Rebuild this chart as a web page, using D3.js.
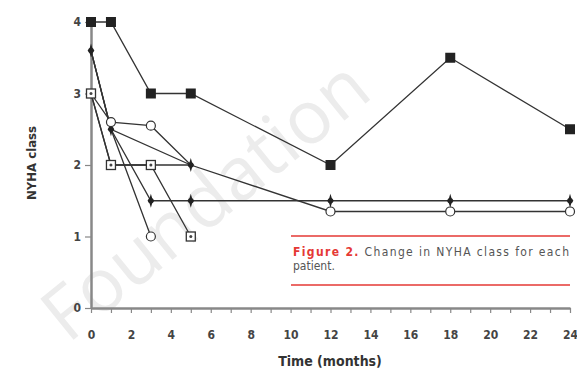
<!DOCTYPE html>
<html>
<head>
<meta charset="utf-8">
<style>
  body { margin: 0; background: #fff; }
  svg { display: block; }
  .axis text { font-family: "DejaVu Sans Condensed", "DejaVu Sans", sans-serif; font-stretch: condensed; font-weight: bold; font-size: 12px; fill: #444; }
  .axis path, .axis line { stroke: #888; }
  .line { fill: none; stroke: #333; stroke-width: 1.3px; }
</style>
</head>
<body>
<div id="chart"></div>
<script src="https://cdnjs.cloudflare.com/ajax/libs/d3/7.8.5/d3.min.js"></script>
<script>
  // follow-up times (months) and NYHA class per patient, null = no visit
  var months = [0, 1, 3, 5, 12, 18, 24];
  var xTicks = [0, 2, 4, 6, 8, 10, 12, 14, 16, 18, 20, 22, 24];
  var yTicks = [0, 1, 2, 3, 4];

  var p1 = [4, 4, 3, 3, 2, 3.5, 2.5];
  var p2 = [3.6, 2.5, 1.5, 1.5, 1.5, 1.5, 1.5];
  var p3 = [3, 2.6, 2.55, 2, 1.35, 1.35, 1.35];
  var p4 = [3, 2, 2, 1, null, null, null];
  var p5 = [3.6, 2.5, 1, null, null, null, null];
  var p6 = [3.6, 2.5, null, 2, null, null, null];
  var p7 = [3, 2, 2, 2, null, null, null];

  var patients = [
    { values: p7, symbol: "opensquare" },
    { values: p6, symbol: "star" },
    { values: p5, symbol: "opencircle" },
    { values: p4, symbol: "opensquare" },
    { values: p3, symbol: "opencircle" },
    { values: p2, symbol: "star" },
    { values: p1, symbol: "square" }
  ];
  // later symbols win where points coincide
  var markerOrder = ["opencircle", "opensquare", "star", "square"];

  var width = 577, height = 376;
  var condensed = "'DejaVu Sans Condensed', 'DejaVu Sans', sans-serif";

  var x = d3.scaleLinear().domain([0, 24]).range([91, 570]);
  var y = d3.scaleLinear().domain([0, 4]).range([308, 22]);

  var svg = d3.select("#chart").append("svg")
    .attr("width", width)
    .attr("height", height);

  // watermark (behind the chart)
  svg.append("text")
    .attr("transform", "translate(205,200) rotate(-39)")
    .attr("text-anchor", "middle")
    .attr("dy", "0.35em")
    .style("font-family", "'Open Sans', sans-serif")
    .style("font-size", "74px")
    .style("fill", "#ececec")
    .text("Foundation");

  // axes
  var xAxis = svg.append("g")
    .attr("class", "axis")
    .attr("transform", "translate(0," + y(0) + ")")
    .call(d3.axisBottom(x).tickValues(d3.range(0, 25)).tickSize(5).tickSizeOuter(0)
      .tickFormat(function (d) { return xTicks.indexOf(d) >= 0 ? d : ""; }).tickPadding(17));
  xAxis.select(".domain").attr("stroke-width", 2.5);
  xAxis.selectAll(".tick line").attr("stroke-width", 1.2);

  var yAxis = svg.append("g")
    .attr("class", "axis")
    .attr("transform", "translate(" + x(0) + ",0)")
    .call(d3.axisLeft(y).tickValues(yTicks).tickSize(6).tickSizeOuter(0).tickPadding(4)
      .tickFormat(d3.format("d")));
  yAxis.select(".domain").attr("stroke-width", 2.5);
  yAxis.selectAll(".tick line").attr("stroke-width", 1.2);

  svg.append("text")
    .attr("x", 330).attr("y", 366)
    .attr("text-anchor", "middle")
    .style("font-family", condensed).style("font-stretch", "condensed")
    .style("font-weight", "bold").style("font-size", "14px").style("fill", "#333")
    .text("Time (months)");

  svg.append("text")
    .attr("transform", "translate(36,163) rotate(-90)")
    .attr("text-anchor", "middle")
    .style("font-family", condensed).style("font-stretch", "condensed")
    .style("font-weight", "bold").style("font-size", "13px").style("fill", "#333")
    .text("NYHA class");

  // lines
  var line = d3.line()
    .x(function (d) { return x(d[0]); })
    .y(function (d) { return y(d[1]); });

  function pts(values) {
    return months.map(function (m, i) { return [m, values[i]]; })
      .filter(function (d) { return d[1] != null; });
  }

  patients.forEach(function (p) {
    svg.append("path").attr("class", "line").attr("d", line(pts(p.values)));
  });

  // markers: one per position, the highest ranked symbol is kept
  var star4 = "M0,-7L1.6,-1.6L3.5,0L1.6,1.6L0,7L-1.6,1.6L-3.5,0L-1.6,-1.6Z";

  function drawMarker(g, type) {
    if (type === "square") {
      g.append("rect").attr("x", -5).attr("y", -5).attr("width", 10).attr("height", 10)
        .attr("fill", "#222");
    } else if (type === "opensquare") {
      g.append("rect").attr("x", -4.5).attr("y", -4.5).attr("width", 9).attr("height", 9)
        .attr("fill", "#fff").attr("stroke", "#333").attr("stroke-width", 1.3);
      g.append("circle").attr("r", 1.5).attr("fill", "#444");
    } else if (type === "opencircle") {
      g.append("circle").attr("r", 4.5)
        .attr("fill", "#fff").attr("stroke", "#333").attr("stroke-width", 1.2);
    } else if (type === "star") {
      g.append("path").attr("d", star4).attr("fill", "#222");
      g.append("circle").attr("r", 2.8).attr("fill", "#222");
    }
  }

  var markers = {};
  patients.forEach(function (p) {
    pts(p.values).forEach(function (d) {
      var key = d[0] + "," + d[1];
      var old = markers[key];
      if (!old || markerOrder.indexOf(p.symbol) > markerOrder.indexOf(old.type)) {
        markers[key] = { pos: d, type: p.symbol };
      }
    });
  });

  Object.keys(markers).forEach(function (k) {
    var m = markers[k];
    var g = svg.append("g").attr("transform", "translate(" + x(m.pos[0]) + "," + y(m.pos[1]) + ")");
    drawMarker(g, m.type);
  });

  // caption
  svg.append("line").attr("x1", 291).attr("x2", 570).attr("y1", 236).attr("y2", 236)
    .attr("stroke", "#e53935").attr("stroke-width", 1.5);
  svg.append("line").attr("x1", 291).attr("x2", 570).attr("y1", 285).attr("y2", 285)
    .attr("stroke", "#e53935").attr("stroke-width", 1.5);

  var cap = svg.append("text")
    .attr("x", 293).attr("y", 256)
    .attr("textLength", 276).attr("lengthAdjust", "spacing")
    .style("font-family", condensed).style("font-stretch", "condensed")
    .style("font-size", "12px").style("fill", "#555");
  cap.append("tspan").style("fill", "#e53935").style("font-weight", "bold").text("Figure 2.");
  cap.append("tspan").text(" Change in NYHA class for each");
  svg.append("text")
    .attr("x", 293).attr("y", 270)
    .style("font-family", condensed).style("font-stretch", "condensed")
    .style("font-size", "12px").style("fill", "#555")
    .text("patient.");
</script>
</body>
</html>
